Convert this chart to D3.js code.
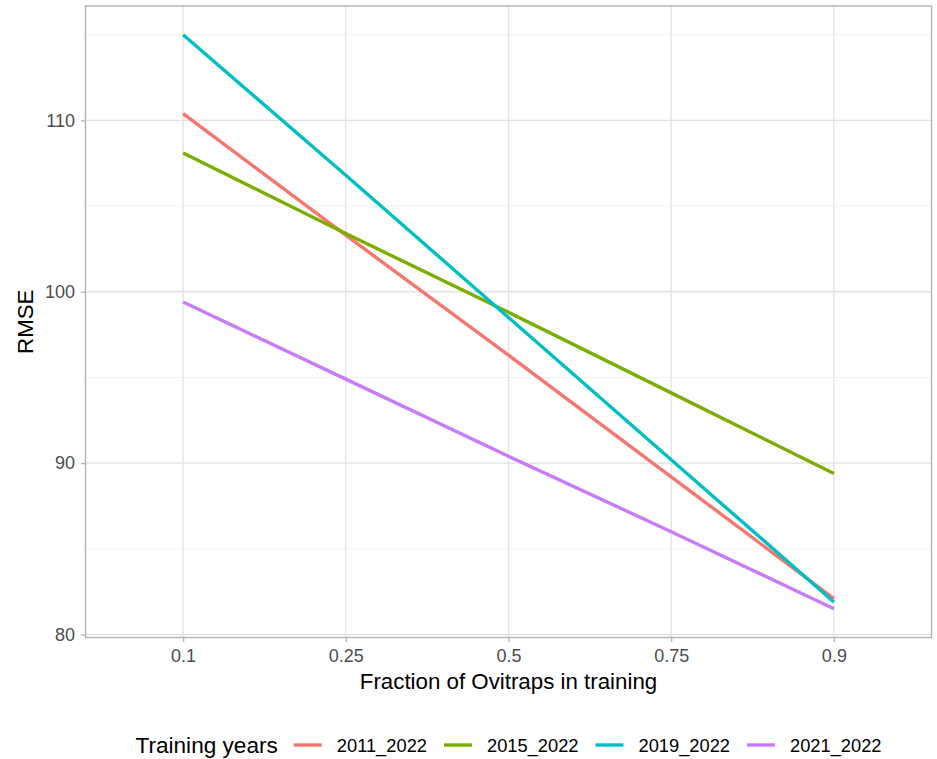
<!DOCTYPE html>
<html>
<head>
<meta charset="utf-8">
<script src="https://cdn.jsdelivr.net/npm/d3@7"></script>
<style>
  body { margin: 0; background: #fff; }
  svg { display: block; font-family: 'Liberation Sans', Arial, sans-serif; }
</style>
</head>
<body>
<svg class="chart"></svg>
<script>
// fraction of ovitraps used for training (x categories)
const fractions = ['0.1', '0.25', '0.5', '0.75', '0.9'];
const seriesNames = ['2011_2022', '2015_2022', '2019_2022', '2021_2022'];
const seriesColors = ['#F8766D', '#7CAE00', '#00BFC4', '#C77CFF'];

// RMSE, one value per fraction
const rmse2011 = [110.4, 103.3, 96.3, 89.2, 82.1];
const rmse2015 = [108.1, 103.4, 98.8, 94.1, 89.4];
const rmse2019 = [115.0, 106.8, 98.5, 90.2, 81.9];
const rmse2021 = [99.4, 94.9, 90.4, 86.0, 81.5];

const yTicks = [80, 90, 100, 110];
const yMinor = [85, 95, 105, 115];

const allSeries = [rmse2011, rmse2015, rmse2019, rmse2021];

const width = 937,
  height = 759,
  margins = { top: 6, right: 5.5, bottom: 121.5, left: 85.5 };

const svg = d3.select('.chart')
  .attr('width', width)
  .attr('height', height);

const x = d3.scalePoint()
  .domain(fractions)
  .range([margins.left, width - margins.right])
  .padding(0.6);

const lo = d3.min(allSeries, s => d3.min(s));
const hi = d3.max(allSeries, s => d3.max(s));
const pad = (hi - lo) * 0.05;

const y = d3.scaleLinear()
  .domain([lo - pad, hi + pad])
  .range([height - margins.bottom, margins.top]);

const panelLeft = margins.left,
  panelRight = width - margins.right,
  panelTop = margins.top,
  panelBottom = height - margins.bottom;

// minor grid
svg.append('g')
  .selectAll('line')
  .data(yMinor)
  .enter().append('line')
  .attr('x1', panelLeft).attr('x2', panelRight)
  .attr('y1', d => y(d)).attr('y2', d => y(d))
  .attr('stroke', '#F0F0F0')
  .attr('stroke-width', 0.8);

// major grid
svg.append('g')
  .selectAll('line')
  .data(yTicks)
  .enter().append('line')
  .attr('x1', panelLeft).attr('x2', panelRight)
  .attr('y1', d => y(d)).attr('y2', d => y(d))
  .attr('stroke', '#E2E2E2')
  .attr('stroke-width', 1.3);

svg.append('g')
  .selectAll('line')
  .data(fractions)
  .enter().append('line')
  .attr('x1', d => x(d)).attr('x2', d => x(d))
  .attr('y1', panelTop).attr('y2', panelBottom)
  .attr('stroke', '#E2E2E2')
  .attr('stroke-width', 1.3);

// lines
const line = d3.line()
  .x((d, i) => x(fractions[i]))
  .y(d => y(d));

svg.append('g')
  .selectAll('path')
  .data(allSeries)
  .enter().append('path')
  .attr('d', d => line(d))
  .attr('fill', 'none')
  .attr('stroke', (d, i) => seriesColors[i])
  .attr('stroke-width', 3.4)
  .attr('stroke-linejoin', 'round');

// panel border
svg.append('rect')
  .attr('x', panelLeft)
  .attr('y', panelTop)
  .attr('width', panelRight - panelLeft)
  .attr('height', panelBottom - panelTop)
  .attr('fill', 'none')
  .attr('stroke', '#B3B3B3')
  .attr('stroke-width', 1.4);

// axes
const xAxis = svg.append('g')
  .attr('transform', 'translate(0,' + panelBottom + ')')
  .call(d3.axisBottom(x).tickSize(4.5).tickPadding(7));

const yAxis = svg.append('g')
  .attr('transform', 'translate(' + panelLeft + ',0)')
  .call(d3.axisLeft(y).tickValues(yTicks).tickSize(4.5).tickPadding(6));

[xAxis, yAxis].forEach(ax => {
  ax.select('.domain').remove();
  ax.selectAll('line').attr('stroke', '#B3B3B3').attr('stroke-width', 1.3);
  ax.selectAll('text')
    .attr('fill', '#4D4D4D')
    .style('font-size', '18px')
    .style('font-family', "'Liberation Sans', Arial, sans-serif");
});

// axis titles
svg.append('text')
  .attr('x', (panelLeft + panelRight) / 2)
  .attr('y', 689)
  .style('text-anchor', 'middle')
  .style('font-size', '22.3px')
  .text('Fraction of Ovitraps in training');

svg.append('text')
  .attr('transform', 'translate(33,' + ((panelTop + panelBottom) / 2) + ') rotate(-90)')
  .style('text-anchor', 'middle')
  .style('font-size', '22.3px')
  .text('RMSE');

// legend
const legend = svg.append('g');
const legendY = 745;

const title = legend.append('text')
  .attr('x', 0)
  .attr('y', legendY + 8)
  .style('font-size', '22.6px')
  .text('Training years');

let cursor = title.node().getComputedTextLength() + 16;
seriesNames.forEach((name, i) => {
  legend.append('line')
    .attr('x1', cursor).attr('x2', cursor + 28)
    .attr('y1', legendY).attr('y2', legendY)
    .attr('stroke', seriesColors[i])
    .attr('stroke-width', 3.4);
  const label = legend.append('text')
    .attr('x', cursor + 43)
    .attr('y', legendY + 6.5)
    .style('font-size', '18.3px')
    .text(name);
  cursor += 43 + label.node().getComputedTextLength() + 17;
});
cursor -= 17;

legend.attr('transform', 'translate(' + ((panelLeft + panelRight) / 2 - cursor / 2) + ',0)');
</script>
</body>
</html>
